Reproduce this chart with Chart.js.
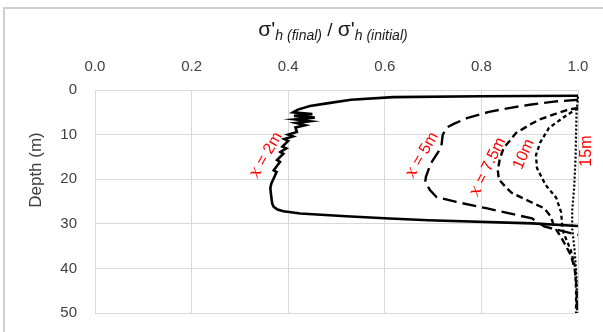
<!DOCTYPE html>
<html>
<head>
<meta charset="utf-8">
<script src="https://cdn.jsdelivr.net/npm/chart.js@4.4.1/dist/chart.umd.min.js"></script>
<style>
  html, body { margin: 0; padding: 0; background: #fff; }
  #wrap { width: 603px; height: 332px; position: relative; }
</style>
</head>
<body>
<div id="wrap"><canvas id="c"></canvas></div>
<script>
// depth (m) and stress ratio, one pair of arrays per curve
const depth2 = [1.3, 1.4, 1.6, 2.2, 3.0, 3.6, 4.4, 5.0, 5.4, 5.8, 6.2, 6.6, 7.0, 7.4, 7.9, 8.4, 9.4, 10, 10.4, 11, 11.4, 12.7, 13.1, 13.9, 14.3, 15.7, 16.1, 18, 18.4, 21, 22, 24, 25.5, 26.2, 26.8, 27.2, 27.7, 28.3, 28.8, 29.2, 29.9, 30.5];
const ratio2 = [1.0, 0.8, 0.617, 0.53, 0.48, 0.445, 0.42, 0.41, 0.45, 0.412, 0.455, 0.415, 0.445, 0.416, 0.435, 0.415, 0.418, 0.40, 0.41, 0.392, 0.40, 0.388, 0.396, 0.384, 0.39, 0.377, 0.383, 0.37, 0.376, 0.365, 0.363, 0.365, 0.367, 0.37, 0.378, 0.39, 0.425, 0.52, 0.61, 0.69, 0.905, 1.0];

const depth5 = [2.2, 2.6, 3.3, 4.0, 4.9, 6.3, 7.5, 8.3, 10, 12.7, 14, 16.5, 19.5, 20.5, 22.4, 24, 25.1, 26.5, 28, 28.8, 30.6, 32.5];
const ratio5 = [1.0, 0.95, 0.9, 0.86, 0.816, 0.77, 0.745, 0.73, 0.72, 0.717, 0.71, 0.695, 0.685, 0.684, 0.693, 0.707, 0.748, 0.81, 0.872, 0.905, 0.93, 1.0];

const depth75 = [4.0, 4.5, 5.3, 6.6, 7.8, 9.6, 11.5, 13, 15.5, 18, 20, 21.5, 23, 25, 26.5, 28.4, 30.5, 33, 35, 37, 40, 44, 50];
const ratio75 = [1.0, 0.977, 0.955, 0.92, 0.9, 0.872, 0.858, 0.846, 0.838, 0.834, 0.836, 0.848, 0.862, 0.9, 0.93, 0.944, 0.95, 0.965, 0.975, 0.985, 0.993, 0.997, 0.998];

const depth10 = [4.0, 6.3, 8.5, 11.7, 14.6, 17.5, 21.3, 24.2, 27.4, 30, 32, 35.9, 39.7, 45, 50];
const ratio10 = [1.0, 0.968, 0.94, 0.922, 0.913, 0.915, 0.933, 0.955, 0.965, 0.967, 0.97, 0.985, 0.994, 0.996, 0.996];

const depth15 = [1.5, 5, 15, 22, 27, 31, 36, 42, 50];
const ratio15 = [1.0, 0.997, 0.995, 0.992, 0.988, 0.988, 0.993, 0.997, 0.998];

const xTicks = [0, 0.2, 0.4, 0.6, 0.8, 1.0];
const yTicks = [0, 10, 20, 30, 40, 50];

// curve labels: text after the italic x, centre in data units, rotation
const curveLabels = [
  { pre: 'x', text: ' = 2m',   x: 0.354, y: 14.6, rot: -60 },
  { pre: 'x', text: ' = 5m',   x: 0.677, y: 14.6, rot: -60 },
  { pre: 'x', text: ' = 7.5m', x: 0.813, y: 17.3, rot: -64 },
  { pre: '',  text: '10m',     x: 0.888, y: 14.4, rot: -66 },
  { pre: '',  text: '15m',     x: 1.018, y: 13.7, rot: -90 },
];

const SANS = '"Liberation Sans", Arial, sans-serif';

function pts(xs, ys) {
  return xs.map((v, i) => ({ x: v, y: ys[i] }));
}

function line(data, width, dash) {
  return {
    data,
    showLine: true,
    borderColor: '#000',
    borderWidth: width,
    borderDash: dash,
    pointRadius: 0,
    tension: 0,
    clip: 5,
  };
}

const decor = {
  id: 'decor',
  beforeDraw(chart) {
    const { ctx } = chart;
    ctx.save();
    ctx.strokeStyle = '#c0c0c0';
    ctx.lineWidth = 1.5;
    ctx.strokeRect(4, 8, 700, 400);
    ctx.restore();
  },
  afterDraw(chart) {
    const { ctx, scales } = chart;
    ctx.save();

    // x axis title with subscripts
    const parts = [
      { t: "σ'", f: '21px ' + SANS, dy: 0 },
      { t: 'h (final)', f: 'italic 14px ' + SANS, dy: 4 },
      { t: ' / ', f: '19px ' + SANS, dy: 0 },
      { t: "σ'", f: '21px ' + SANS, dy: 0 },
      { t: 'h (initial)', f: 'italic 14px ' + SANS, dy: 4 },
    ];
    let total = 0;
    parts.forEach(p => { ctx.font = p.f; p.w = ctx.measureText(p.t).width; total += p.w; });
    let px = 333 - total / 2;
    ctx.fillStyle = '#1a1a1a';
    ctx.textBaseline = 'alphabetic';
    ctx.textAlign = 'left';
    parts.forEach(p => { ctx.font = p.f; ctx.fillText(p.t, px, 36 + p.dy); px += p.w; });

    // y axis title
    ctx.save();
    ctx.translate(36, 170);
    ctx.rotate(-Math.PI / 2);
    ctx.font = '17px ' + SANS;
    ctx.fillStyle = '#404040';
    ctx.textAlign = 'center';
    ctx.textBaseline = 'middle';
    ctx.fillText('Depth (m)', 0, 0);
    ctx.restore();

    // red curve labels
    curveLabels.forEach(l => {
      const cx = scales.x.getPixelForValue(l.x);
      const cy = scales.y.getPixelForValue(l.y);
      ctx.save();
      ctx.translate(cx, cy);
      ctx.rotate(l.rot * Math.PI / 180);
      ctx.fillStyle = '#ff0000';
      ctx.textBaseline = 'middle';
      const fPre = 'italic 17px "DejaVu Serif", serif';
      const fTxt = '16px ' + SANS;
      ctx.font = fPre;
      const w1 = l.pre ? ctx.measureText(l.pre).width : 0;
      ctx.font = fTxt;
      const w2 = ctx.measureText(l.text).width;
      let sx = -(w1 + w2) / 2;
      if (l.pre) { ctx.font = fPre; ctx.fillText(l.pre, sx, 0); sx += w1; }
      ctx.font = fTxt;
      ctx.fillText(l.text, sx, 0);
      ctx.restore();
    });

    ctx.restore();
  },
};

new Chart(document.getElementById('c'), {
  type: 'scatter',
  data: {
    datasets: [
      line(pts(ratio2, depth2), 2.6, []),
      line(pts(ratio5, depth5), 2.4, [14, 6]),
      line(pts(ratio75, depth75), 2.4, [7, 4]),
      line(pts(ratio10, depth10), 2.3, [4, 3]),
      line(pts(ratio15, depth15), 2.2, [2, 2]),
    ],
  },
  options: {
    responsive: true,
    maintainAspectRatio: false,
    animation: false,
    layout: { padding: { left: 0, right: 25, top: 0, bottom: 19 } },
    plugins: { legend: { display: false }, tooltip: { enabled: false } },
    scales: {
      x: {
        type: 'linear',
        position: 'top',
        min: 0, max: 1,
        afterBuildTicks: s => { s.ticks = xTicks.map(v => ({ value: v })); },
        afterFit: s => { s.height = 90; s.paddingLeft = 0; s.paddingRight = 0; },
        ticks: {
          padding: 14,
          color: '#404040',
          font: { family: SANS, size: 15 },
          callback: v => v.toFixed(1),
        },
        grid: { color: '#d9d9d9', lineWidth: 1, drawTicks: false },
        border: { display: true, color: '#d9d9d9' },
      },
      y: {
        type: 'linear',
        reverse: true,
        min: 0, max: 50,
        afterBuildTicks: s => { s.ticks = yTicks.map(v => ({ value: v })); },
        afterFit: s => { s.width = 95; s.paddingTop = 0; s.paddingBottom = 0; },
        ticks: {
          padding: 18,
          color: '#404040',
          font: { family: SANS, size: 15 },
        },
        grid: { color: '#d9d9d9', lineWidth: 1, drawTicks: false },
        border: { display: true, color: '#d9d9d9' },
      },
    },
  },
  plugins: [decor],
});
</script>
</body>
</html>
